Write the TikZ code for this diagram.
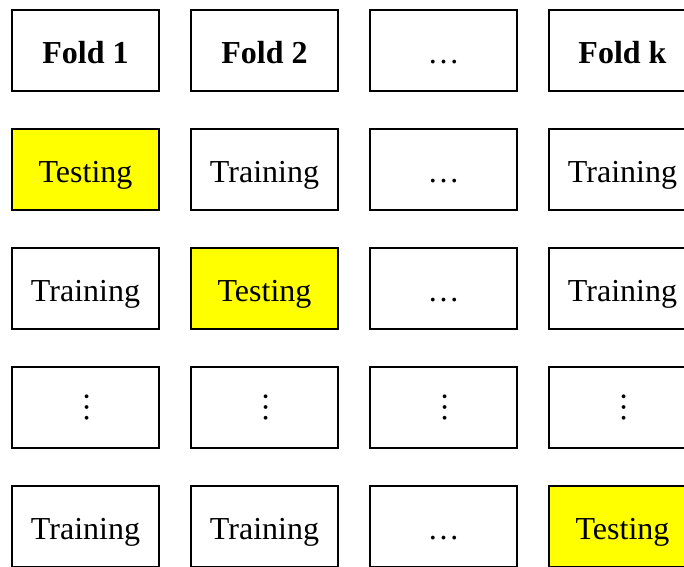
\documentclass[tikz,border=0pt]{standalone}
\usepackage{fontspec}
\setmainfont{Liberation Serif}
\definecolor{testYellow}{RGB}{255,255,0}

\newcommand{\colA }{85.5}
\newcommand{\colB }{264.5}
\newcommand{\colC }{443.5}
\newcommand{\colD }{622.5}
\newcommand{\rowA }{50.5}
\newcommand{\rowB }{169.5}
\newcommand{\rowC }{288.5}
\newcommand{\rowD }{407.5}
\newcommand{\rowE }{526.5}
\newcommand{\boxWid }{147pt}
\newcommand{\boxHei }{81pt}
\newcommand{\boxThick }{1.3pt}
\newcommand{\vdotsText }{\kern3pt\rotatebox{90}{…}}

\begin{document}
\begin{tikzpicture}[x=1pt, y=-1pt,
  foldbox/.style={draw=black, line width=\boxThick, minimum width=\boxWid, minimum height=\boxHei, inner sep=0pt,
                  text height=25pt, text depth=0pt, font=\fontsize{32}{38}\selectfont},
  testbox/.style={foldbox, fill=testYellow},
  skipbox/.style={foldbox, text height=, text depth=}]

  \useasboundingbox (0,0) rectangle (684,566);

  % Header:
  \node[foldbox] (headA) at (\colA , \rowA ) {\textbf{Fold 1}};
  \node[foldbox] (headB) at (\colB , \rowA ) {\textbf{Fold 2}};
  \node[foldbox] (headC) at (\colC , \rowA ) {…};
  \node[foldbox] (headD) at (\colD , \rowA ) {\textbf{Fold k}};

  % First split:
  \node[testbox] (splitAA) at (\colA , \rowB ) {Testing};
  \node[foldbox] (splitAB) at (\colB , \rowB ) {Training};
  \node[foldbox] (splitAC) at (\colC , \rowB ) {…};
  \node[foldbox] (splitAD) at (\colD , \rowB ) {Training};

  % Second split:
  \node[foldbox] (splitBA) at (\colA , \rowC ) {Training};
  \node[testbox] (splitBB) at (\colB , \rowC ) {Testing};
  \node[foldbox] (splitBC) at (\colC , \rowC ) {…};
  \node[foldbox] (splitBD) at (\colD , \rowC ) {Training};

  % Skipped splits:
  \node[skipbox] (skipA) at (\colA , \rowD ) {\vdotsText };
  \node[skipbox] (skipB) at (\colB , \rowD ) {\vdotsText };
  \node[skipbox] (skipC) at (\colC , \rowD ) {\vdotsText };
  \node[skipbox] (skipD) at (\colD , \rowD ) {\vdotsText };

  % Last split:
  \node[foldbox] (splitKA) at (\colA , \rowE ) {Training};
  \node[foldbox] (splitKB) at (\colB , \rowE ) {Training};
  \node[foldbox] (splitKC) at (\colC , \rowE ) {…};
  \node[testbox] (splitKD) at (\colD , \rowE ) {Testing};

\end{tikzpicture}
\end{document}
